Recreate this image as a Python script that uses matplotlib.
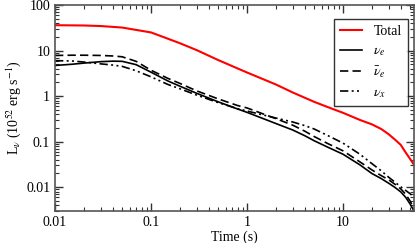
import matplotlib
matplotlib.use("Agg")
import matplotlib.pyplot as plt
from matplotlib.ticker import LogLocator, FixedLocator, FixedFormatter, NullFormatter

plt.rcParams['font.family'] = ['Liberation Serif', 'DejaVu Serif']
plt.rcParams['mathtext.fontset'] = 'stix'

# time (s)
t_total = [0.01, 0.02, 0.03, 0.05, 0.1, 0.2, 0.3, 0.5, 1, 2, 3, 5, 7, 10,
           15, 20, 25, 30, 35, 40, 45, 50, 55]
total = [36, 35.5, 34.5, 32, 25, 14.5, 10.2, 6.2, 3.3, 1.8, 1.2, 0.75, 0.57, 0.43,
         0.30, 0.24, 0.19, 0.145, 0.11, 0.085, 0.058, 0.042, 0.031]

t_nu = [0.01, 0.015, 0.02, 0.03, 0.04, 0.05, 0.07, 0.1, 0.15, 0.2, 0.3, 0.5, 0.8, 1,
        2, 3, 4, 5, 7, 10, 15, 20, 25, 30, 35, 40, 45, 50, 55]
nu_e = [4.7, 5.0, 5.3, 5.7, 5.85, 5.8, 4.9, 3.35, 2.15, 1.65, 1.15, 0.75, 0.52, 0.44,
        0.25, 0.18, 0.135, 0.105, 0.075, 0.053, 0.031, 0.02, 0.0155, 0.0122, 0.0098,
        0.0079, 0.006, 0.0043, 0.003]
nu_ebar = [7.8, 7.9, 7.9, 7.8, 7.6, 7.3, 5.8, 3.7, 2.45, 1.9, 1.3, 0.87, 0.62, 0.55,
           0.32, 0.23, 0.17, 0.13, 0.09, 0.063, 0.036, 0.024, 0.018, 0.0145, 0.0115,
           0.0092, 0.007, 0.005, 0.0035]
nu_x = [6.0, 5.9, 5.6, 5.1, 4.8, 4.5, 3.6, 2.65, 1.8, 1.45, 1.05, 0.72, 0.53, 0.47,
        0.33, 0.27, 0.225, 0.19, 0.135, 0.093, 0.053, 0.033, 0.023, 0.0165, 0.0128,
        0.0102, 0.0085, 0.0072, 0.006]

fig = plt.figure(figsize=(4.15, 2.43), dpi=100)
ax = fig.add_axes([55/415, 1-211/243, 359/415, 206/243])

ax.plot(t_total, total, color='red', lw=1.5, label='Total')
ax.plot(t_nu, nu_e, color='black', lw=1.2, label=r'$\nu_e$')
ax.plot(t_nu, nu_ebar, color='black', lw=1.2, ls=(0, (5, 2.5)), label=r'$\bar{\nu}_e$')
ax.plot(t_nu, nu_x, color='black', lw=1.2, ls=(0, (5, 2, 1.2, 2, 1.2, 2)), label=r'$\nu_x$')

ax.set_xscale('log')
ax.set_yscale('log')
ax.set_xlim(0.01, 55)
ax.set_ylim(0.003, 100)

ax.xaxis.set_major_locator(FixedLocator([0.01, 0.1, 1, 10]))
ax.xaxis.set_major_formatter(FixedFormatter(['0.01', '0.1', '1', '10']))
ax.xaxis.set_minor_locator(LogLocator(base=10, subs=range(2, 10)))
ax.xaxis.set_minor_formatter(NullFormatter())
ax.yaxis.set_major_locator(FixedLocator([0.01, 0.1, 1, 10, 100]))
ax.yaxis.set_major_formatter(FixedFormatter(['0.01', '0.1', '1', '10', '100']))
ax.yaxis.set_minor_locator(LogLocator(base=10, subs=range(2, 10)))
ax.yaxis.set_minor_formatter(NullFormatter())

ax.tick_params(which='both', direction='in', top=True, right=True, labelsize=10, color='#333333')
ax.tick_params(which='major', length=6, width=1)
ax.tick_params(which='minor', length=3, width=0.8)
for s in ax.spines.values():
    s.set_color('#555555')
    s.set_linewidth(1.2)

ax.set_xlabel('Time (s)', fontsize=10, labelpad=1)
ax.set_ylabel(r'L$_\nu$ (10$^{52}$ erg s$^{-1}$)', fontsize=10, labelpad=2)

leg = ax.legend(loc='upper right', bbox_to_anchor=(0.983, 0.932), borderaxespad=0,
                fontsize=10, frameon=True, fancybox=False, edgecolor='black',
                handlelength=1.6, labelspacing=0.45, borderpad=0.45)
leg.get_frame().set_linewidth(1.0)

fig.savefig('out.png', dpi=100)
